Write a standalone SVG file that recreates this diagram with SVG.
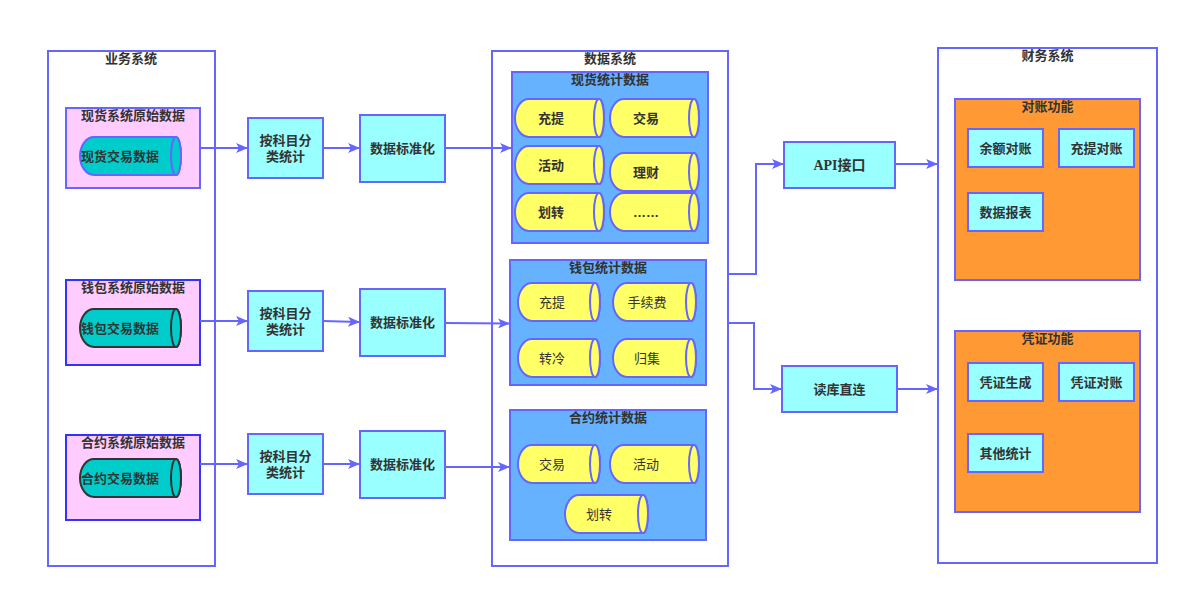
<svg xmlns="http://www.w3.org/2000/svg" width="1190" height="598" viewBox="0 0 1190 598">
<style>
text{font-family:"Liberation Sans","Noto Sans CJK SC",sans-serif;font-size:13px;fill:#333;text-anchor:middle;dominant-baseline:central}
.b{font-weight:bold}
.n{font-weight:normal}
.outer{fill:#fff;stroke:#6666ff;stroke-width:2}
.pink{fill:#ffccff;stroke:#3333ff;stroke-width:2}
.teal{fill:#00cccc;stroke:#333;stroke-width:2}
.cyan{fill:#99ffff;stroke:#6666ff;stroke-width:2}
.blue{fill:#66b2ff;stroke:#6666ff;stroke-width:2}
.yel{fill:#ffff66;stroke:#6666ff;stroke-width:2}
.org{fill:#ff9933;stroke:#6666ff;stroke-width:2}
.con{fill:none;stroke:#6666ff;stroke-width:2}
</style>
<defs>
<marker id="ar" markerWidth="12" markerHeight="10" refX="11" refY="5" orient="auto" markerUnits="userSpaceOnUse">
<path d="M0,0 L12,5 L0,10 L3,5 Z" fill="#6666ff"/>
</marker>
</defs>

<g id="biz">
<rect class="outer" x="48" y="51" width="167" height="515"/>
<text class="b" x="131" y="58">业务系统</text>
</g>
<g id="spot-raw">
<rect class="pink" x="66" y="108" width="134" height="80" style="stroke:#6666ff"/>
<text class="b" x="133" y="115">现货系统原始数据</text>
<path class="teal" style="stroke:#6666ff" d="M94,137 L176,137 A5,19 0 0 1 176,175 L94,175 A14,19 0 0 1 94,137 Z"/>
<ellipse class="teal" style="stroke:#6666ff" cx="176" cy="156" rx="5" ry="19"/>
<text class="b" x="120" y="156">现货交易数据</text>
</g>
<g id="wallet-raw">
<rect class="pink" x="66" y="280" width="134" height="85"/>
<text class="b" x="133" y="287">钱包系统原始数据</text>
<path class="teal" d="M94,309 L176,309 A5,19 0 0 1 176,347 L94,347 A14,19 0 0 1 94,309 Z"/>
<ellipse class="teal" cx="176" cy="328" rx="5" ry="19"/>
<text class="b" x="120" y="328">钱包交易数据</text>
</g>
<g id="contract-raw">
<rect class="pink" x="66" y="435" width="134" height="85"/>
<text class="b" x="133" y="442">合约系统原始数据</text>
<path class="teal" d="M94,459 L176,459 A5,19 0 0 1 176,497 L94,497 A14,19 0 0 1 94,459 Z"/>
<ellipse class="teal" cx="176" cy="478" rx="5" ry="19"/>
<text class="b" x="120" y="478">合约交易数据</text>
</g>

<g id="cls1"><rect class="cyan" x="248" y="118" width="75" height="60"/><text class="b" x="285.5" y="140">按科目分</text><text class="b" x="285.5" y="156">类统计</text></g>
<g id="cls2"><rect class="cyan" x="248" y="291" width="75" height="60"/><text class="b" x="285.5" y="313">按科目分</text><text class="b" x="285.5" y="329">类统计</text></g>
<g id="cls3"><rect class="cyan" x="248" y="434" width="75" height="60"/><text class="b" x="285.5" y="456">按科目分</text><text class="b" x="285.5" y="472">类统计</text></g>

<g id="std1"><rect class="cyan" x="360" y="115" width="85" height="67"/><text class="b" x="402.5" y="148">数据标准化</text></g>
<g id="std2"><rect class="cyan" x="360" y="289" width="85" height="67"/><text class="b" x="402.5" y="322">数据标准化</text></g>
<g id="std3"><rect class="cyan" x="360" y="431" width="85" height="67"/><text class="b" x="402.5" y="464">数据标准化</text></g>

<g id="datasys">
<rect class="outer" x="492" y="51" width="236" height="515"/>
<text class="b" x="610" y="58">数据系统</text>
</g>
<g id="spot-stat">
<rect class="blue" x="512" y="72" width="196" height="171"/>
<text class="b" x="610" y="79">现货统计数据</text>
<path class="yel" d="M529,99 L599,99 A5,19 0 0 1 599,137 L529,137 A14,19 0 0 1 529,99 Z"/><ellipse class="yel" cx="599" cy="118" rx="5" ry="19"/><text class="b" x="551" y="118">充提</text>
<path class="yel" d="M624,99 L694,99 A5,19 0 0 1 694,137 L624,137 A14,19 0 0 1 624,99 Z"/><ellipse class="yel" cx="694" cy="118" rx="5" ry="19"/><text class="b" x="646" y="118">交易</text>
<path class="yel" d="M529,146 L599,146 A5,19 0 0 1 599,184 L529,184 A14,19 0 0 1 529,146 Z"/><ellipse class="yel" cx="599" cy="165" rx="5" ry="19"/><text class="b" x="551" y="165">活动</text>
<path class="yel" d="M624,153 L694,153 A5,19 0 0 1 694,191 L624,191 A14,19 0 0 1 624,153 Z"/><ellipse class="yel" cx="694" cy="172" rx="5" ry="19"/><text class="b" x="646" y="172">理财</text>
<path class="yel" d="M529,193 L599,193 A5,19 0 0 1 599,231 L529,231 A14,19 0 0 1 529,193 Z"/><ellipse class="yel" cx="599" cy="212" rx="5" ry="19"/><text class="b" x="551" y="212">划转</text>
<path class="yel" d="M624,193 L694,193 A5,19 0 0 1 694,231 L624,231 A14,19 0 0 1 624,193 Z"/><ellipse class="yel" cx="694" cy="212" rx="5" ry="19"/><text class="b" x="646" y="212">……</text>
</g>
<g id="wallet-stat">
<rect class="blue" x="510" y="260" width="196" height="125"/>
<text class="b" x="608" y="267">钱包统计数据</text>
<path class="yel" d="M532,283 L595,283 A5,19 0 0 1 595,321 L532,321 A14,19 0 0 1 532,283 Z"/><ellipse class="yel" cx="595" cy="302" rx="5" ry="19"/><text class="n" x="552" y="302">充提</text>
<path class="yel" d="M627,283 L691,283 A5,19 0 0 1 691,321 L627,321 A14,19 0 0 1 627,283 Z"/><ellipse class="yel" cx="691" cy="302" rx="5" ry="19"/><text class="n" x="647" y="302">手续费</text>
<path class="yel" d="M532,339 L595,339 A5,19 0 0 1 595,377 L532,377 A14,19 0 0 1 532,339 Z"/><ellipse class="yel" cx="595" cy="358" rx="5" ry="19"/><text class="n" x="552" y="358">转冷</text>
<path class="yel" d="M627,339 L691,339 A5,19 0 0 1 691,377 L627,377 A14,19 0 0 1 627,339 Z"/><ellipse class="yel" cx="691" cy="358" rx="5" ry="19"/><text class="n" x="647" y="358">归集</text>
</g>
<g id="contract-stat">
<rect class="blue" x="510" y="410" width="196" height="130"/>
<text class="b" x="608" y="417">合约统计数据</text>
<path class="yel" d="M532,445 L595,445 A5,19 0 0 1 595,483 L532,483 A14,19 0 0 1 532,445 Z"/><ellipse class="yel" cx="595" cy="464" rx="5" ry="19"/><text class="n" x="552" y="464">交易</text>
<path class="yel" d="M624,445 L694,445 A5,19 0 0 1 694,483 L624,483 A14,19 0 0 1 624,445 Z"/><ellipse class="yel" cx="694" cy="464" rx="5" ry="19"/><text class="n" x="646" y="464">活动</text>
<path class="yel" d="M579,495 L643,495 A5,19 0 0 1 643,533 L579,533 A14,19 0 0 1 579,495 Z"/><ellipse class="yel" cx="643" cy="514" rx="5" ry="19"/><text class="n" x="599" y="514">划转</text>
</g>

<g id="api"><rect class="cyan" x="784" y="142" width="111" height="46"/><text class="b" x="839.5" y="165" style="font-family:'Liberation Serif','Noto Sans CJK SC',serif;font-size:14px">API接口</text></g>
<g id="db"><rect class="cyan" x="782" y="366" width="115" height="46"/><text class="b" x="839.5" y="389">读库直连</text></g>

<g id="fin">
<rect class="outer" x="938" y="48" width="219" height="515"/>
<text class="b" x="1047.5" y="55">财务系统</text>
</g>
<g id="recon">
<rect class="org" x="955" y="99" width="185" height="181"/>
<text class="b" x="1047.5" y="106">对账功能</text>
<rect class="cyan" x="968" y="129" width="75" height="38"/><text class="b" x="1005.5" y="148">余额对账</text>
<rect class="cyan" x="1059" y="129" width="75" height="38"/><text class="b" x="1096.5" y="148">充提对账</text>
<rect class="cyan" x="968" y="193" width="75" height="38"/><text class="b" x="1005.5" y="212">数据报表</text>
</g>
<g id="voucher">
<rect class="org" x="955" y="331" width="185" height="181"/>
<text class="b" x="1047.5" y="338">凭证功能</text>
<rect class="cyan" x="968" y="363" width="75" height="38"/><text class="b" x="1005.5" y="382">凭证生成</text>
<rect class="cyan" x="1059" y="363" width="75" height="38"/><text class="b" x="1096.5" y="382">凭证对账</text>
<rect class="cyan" x="968" y="434" width="75" height="38"/><text class="b" x="1005.5" y="453">其他统计</text>
</g>

<g id="connectors">
<path class="con" marker-end="url(#ar)" d="M200,148 L247,148"/>
<path class="con" marker-end="url(#ar)" d="M200,321 L247,321"/>
<path class="con" marker-end="url(#ar)" d="M200,464 L247,464"/>
<path class="con" marker-end="url(#ar)" d="M323,148 L359,148"/>
<path class="con" marker-end="url(#ar)" d="M323,321 L359,322"/>
<path class="con" marker-end="url(#ar)" d="M323,464 L359,464"/>
<path class="con" marker-end="url(#ar)" d="M445,148 L511,148"/>
<path class="con" marker-end="url(#ar)" d="M445,323 L509,323.5"/>
<path class="con" marker-end="url(#ar)" d="M445,467 L509,467"/>
<path class="con" marker-end="url(#ar)" d="M728,274 L756,274 L756,164 L783,164"/>
<path class="con" marker-end="url(#ar)" d="M728,323 L754,323 L754,389 L781,389"/>
<path class="con" marker-end="url(#ar)" d="M895,164 L937,164"/>
<path class="con" marker-end="url(#ar)" d="M897,389 L937,389"/>
</g>
</svg>
